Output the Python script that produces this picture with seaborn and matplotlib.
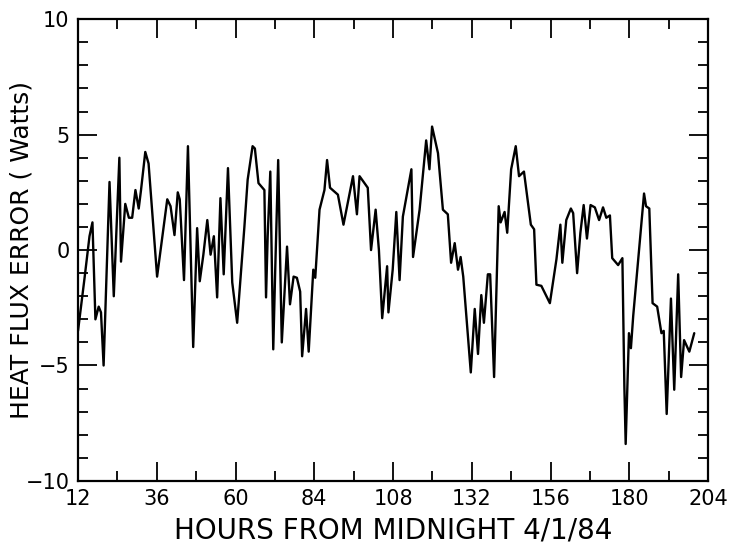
import numpy as np
import pandas as pd
import matplotlib
matplotlib.use("Agg")
import matplotlib.pyplot as plt
from matplotlib.ticker import MultipleLocator
import seaborn as sns

# values (hours, watts)
hours = [12.0, 14.0, 15.5, 16.4, 17.3, 18.3, 19.0, 19.8, 21.6, 22.9, 24.6, 25.1,
         26.4, 27.5, 28.5, 29.5, 30.5, 31.2, 32.5, 33.5, 36.1, 39.2, 40.2, 41.4,
         42.4, 43.0, 44.3, 45.5, 47.1, 48.3, 49.1, 50.2, 51.4, 52.4, 53.4, 54.4,
         55.4, 56.4, 57.7, 59.0, 60.5, 62.0, 62.7, 63.7, 65.2, 65.9, 67.0, 68.8,
         69.3, 69.8, 70.6, 71.5, 72.1, 73.0, 74.1, 75.7, 76.6, 77.7, 78.7, 79.7,
         80.3, 81.5, 82.3, 83.7, 84.3, 85.6, 87.1, 87.9, 88.8, 91.2, 92.9, 95.8,
         97.0, 97.8, 99.8, 100.3, 101.3, 102.7, 103.7, 104.7, 106.2, 106.6, 107.9,
         109.0, 110.0, 111.0, 113.6, 114.1, 116.1, 118.1, 119.1, 119.9, 121.7,
         123.2, 124.7, 125.7, 126.8, 127.8, 128.6, 129.4, 131.7, 132.9, 133.9,
         134.9, 135.7, 136.9, 137.6, 138.8, 140.2, 140.8, 142.0, 142.8, 144.0,
         145.4, 146.4, 147.9, 150.0, 151.0, 151.7, 153.2, 155.8, 157.8, 159.0,
         159.6, 160.8, 162.2, 162.9, 164.1, 165.1, 166.1, 167.1, 168.2, 169.5,
         170.8, 172.0, 173.0, 174.1, 174.8, 176.6, 177.9, 178.5, 178.9, 179.9,
         180.5, 181.2, 184.5, 185.1, 186.1, 187.1, 188.5, 189.8, 190.5, 191.4,
         192.7, 193.7, 194.9, 195.8, 196.7, 198.3, 199.8]
flux = [-3.5, -1.2, 0.6, 1.2, -3.0, -2.45, -2.7, -5.0, 2.95, -2.0, 4.0, -0.5,
        2.0, 1.4, 1.4, 2.6, 1.8, 2.6, 4.25, 3.75, -1.15, 2.2, 1.9, 0.65,
        2.5, 2.2, -1.3, 4.5, -4.2, 0.95, -1.35, -0.2, 1.3, -0.2, 0.6, -2.05,
        2.25, -1.05, 3.55, -1.4, -3.15, -0.3, 1.0, 3.05, 4.5, 4.4, 2.9, 2.6,
        -2.05, 0.6, 3.4, -4.3, -0.85, 3.9, -4.0, 0.15, -2.35, -1.15, -1.2, -1.8,
        -4.6, -2.55, -4.4, -0.85, -1.2, 1.75, 2.6, 3.9, 2.7, 2.4, 1.1, 3.2,
        1.55, 3.2, 2.8, 2.7, 0.0, 1.75, 0.0, -2.95, -0.7, -2.7, -0.85,
        1.65, -1.3, 1.45, 3.5, -0.3, 1.75, 4.75, 3.5, 5.35, 4.2,
        1.75, 1.55, -0.55, 0.3, -0.85, -0.3, -1.15, -5.3, -2.55, -4.5,
        -1.95, -3.15, -1.05, -1.05, -5.5, 1.9, 1.2, 1.65, 0.75, 3.5,
        4.5, 3.2, 3.4, 1.1, 0.9, -1.5, -1.55, -2.3, -0.4, 1.1,
        -0.55, 1.3, 1.8, 1.6, -1.0, 0.75, 1.95, 0.5, 1.95, 1.85,
        1.3, 1.85, 1.4, 1.5, -0.35, -0.65, -0.35, -5.9, -8.4, -3.6,
        -4.25, -2.85, 2.45, 1.9, 1.8, -2.3, -2.45, -3.6, -3.5, -7.1,
        -2.1, -6.05, -1.05, -5.5, -3.9, -4.4, -3.6]

x_ticks = [12, 36, 60, 84, 108, 132, 156, 180, 204]
y_ticks = [-10, -5, 0, 5, 10]

df = pd.DataFrame({"hours": hours, "flux": flux})

sns.set_style("ticks")
plt.rcParams["font.family"] = ["DejaVu Sans"]
plt.rcParams["text.color"] = "black"
plt.rcParams["axes.labelcolor"] = "black"
plt.rcParams["xtick.color"] = "black"
plt.rcParams["ytick.color"] = "black"

fig = plt.figure(figsize=(7.36, 5.49), dpi=100)
ax = fig.add_axes([0.106, 0.124, 0.856, 0.841])
sns.lineplot(data=df, x="hours", y="flux", color="black", linewidth=1.7, ax=ax)

ax.set_xlim(12, 204)
ax.set_ylim(-10, 10)
ax.set_xticks(x_ticks)
ax.set_yticks(y_ticks)
ax.xaxis.set_minor_locator(MultipleLocator(12))
ax.yaxis.set_minor_locator(MultipleLocator(1))
ax.tick_params(which="both", direction="in", top=True, right=True,
               labelsize=15, width=1.3, pad=6)
ax.tick_params(which="major", length=14)
ax.tick_params(which="minor", length=7)
for s in ax.spines.values():
    s.set_linewidth(1.6)
    s.set_color("black")

ax.set_xlabel("HOURS FROM MIDNIGHT 4/1/84", fontsize=20, labelpad=5)
ax.set_ylabel("HEAT FLUX ERROR ( Watts)", fontsize=18)
ax.yaxis.set_label_coords(-0.07, 0.5)

fig.savefig("out.png", dpi=100)
